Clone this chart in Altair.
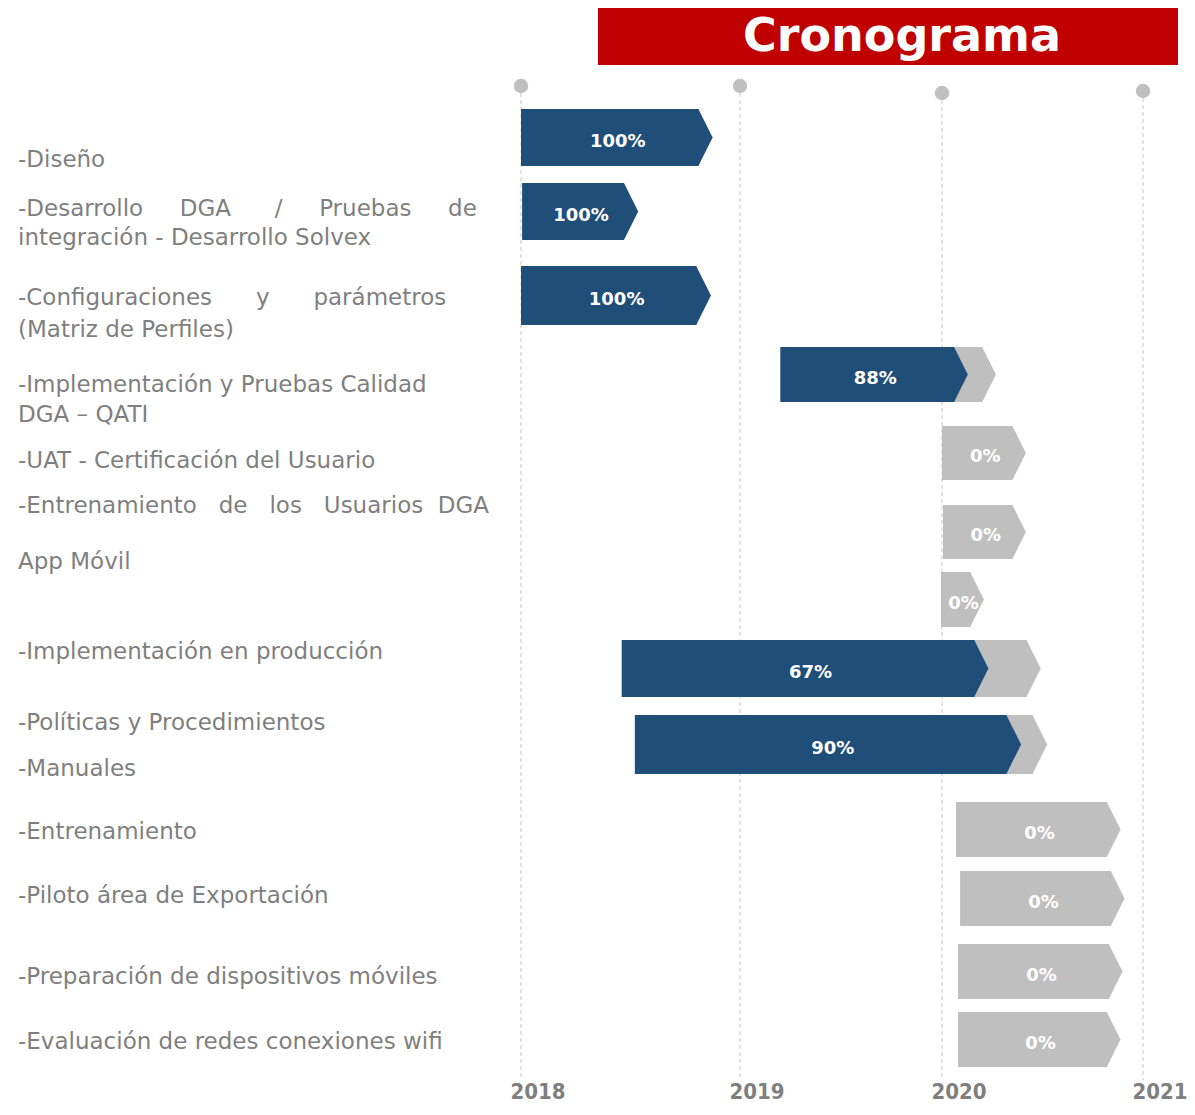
import altair as alt
import pandas as pd

# ---------------- data ----------------
tasks = [
    "Diseño",
    "Desarrollo DGA / Pruebas de integración - Desarrollo Solvex",
    "Configuraciones y parámetros (Matriz de Perfiles)",
    "Implementación y Pruebas Calidad DGA – QATI",
    "UAT - Certificación del Usuario",
    "Entrenamiento de los Usuarios DGA",
    "App Móvil",
    "Implementación en producción",
    "Políticas y Procedimientos / Manuales",
    "Entrenamiento",
    "Piloto área de Exportación",
    "Preparación de dispositivos móviles",
    "Evaluación de redes conexiones wifi",
]
start = [2018.00, 2018.005, 2018.00, 2019.20, 2020.00, 2020.005, 2019.995,
         2018.46, 2018.52, 2020.07, 2020.09, 2020.08, 2020.08]
end = [2018.81, 2018.47, 2018.80, 2020.20, 2020.35, 2020.35, 2020.14,
       2020.42, 2020.45, 2020.82, 2020.84, 2020.83, 2020.82]
done = [2018.81, 2018.47, 2018.80, 2020.06, 2020.00, 2020.005, 2019.995,
        2020.16, 2020.32, 2020.07, 2020.09, 2020.08, 2020.08]
pct = [100, 100, 100, 88, 0, 0, 0, 67, 90, 0, 0, 0, 0]
row_top = [109, 183, 266, 347, 426, 505, 572, 640, 715, 802, 871, 944, 1012]
row_bottom = [166, 240, 325, 402, 480, 559, 627, 697, 774, 857, 926, 999, 1067]

NB = "\u00a0"
label_text = [
    "-Diseño",
    "-Desarrollo " + NB * 4 + "DGA " + NB * 5 + "/ " + NB * 4 + "Pruebas " + NB * 4 + "de",
    "integración - Desarrollo Solvex",
    "-Configuraciones " + NB * 5 + "y " + NB * 5 + "parámetros",
    "(Matriz de Perfiles)",
    "-Implementación y Pruebas Calidad",
    "DGA – QATI",
    "-UAT - Certificación del Usuario",
    "-Entrenamiento " + NB * 2 + "de " + NB * 2 + "los " + NB * 2 + "Usuarios " + NB + "DGA",
    "App Móvil",
    "-Implementación en producción",
    "-Políticas y Procedimientos",
    "-Manuales",
    "-Entrenamiento",
    "-Piloto área de Exportación",
    "-Preparación de dispositivos móviles",
    "-Evaluación de redes conexiones wifi",
]
label_pos = [160, 209, 238, 298, 330, 385, 415, 461, 506, 562,
             652, 723, 769, 832, 896, 977, 1042]

years = [2018, 2019, 2020, 2021]
year_top = [86, 86, 93, 91]
title = ["Cronograma"]

# ---------------- styling ----------------
BLUE = "#1f4e79"
GRAY = "#bfbfbf"
TEXT_GRAY = "#7f7f7f"
TIP = "M -0.06 -1 L 0 -1 L 0.5 0 L 0 1 L -0.06 1 Z"

df = pd.DataFrame({
    "task": tasks, "start": start, "end": end, "done": done, "pct": pct,
    "top": row_top, "bottom": row_bottom,
})
df["center"] = (df["top"] + df["bottom"]) / 2
df["sz"] = (df["bottom"] - df["top"]) ** 2

labels = pd.DataFrame({"txt": label_text, "ly": label_pos})
ydf = pd.DataFrame({"year": years, "top": year_top, "lab": [str(y) for y in years]})
tdf = pd.DataFrame({"t": title})

X = alt.Scale(domain=years, range=[513, 732, 934, 1135], nice=False, zero=False)
Y = alt.Scale(domain=[8, 1107], range=[0, 1099], nice=False, zero=False)


def xq(f):
    return alt.X(f"{f}:Q", scale=X, axis=None)


def yq(f):
    return alt.Y(f"{f}:Q", scale=Y, axis=None)


grid = alt.Chart(ydf).mark_rule(color="#c8c8c8", strokeDash=[4, 3], strokeWidth=1).encode(
    x=xq("year"), y=yq("top"), y2=alt.value(1072)
)
dots = alt.Chart(ydf).mark_point(shape="circle", filled=True, size=210, color=GRAY,
                                 opacity=1, strokeWidth=0).encode(x=xq("year"), y=yq("top"))
year_lab = alt.Chart(ydf).mark_text(font="Liberation Sans Narrow, DejaVu Sans Condensed",
                                    fontWeight="bold", fontSize=22, color=TEXT_GRAY,
                                    dx=17, baseline="middle").encode(
    x=xq("year"), y=alt.value(1084), text="lab:N"
)

base = alt.Chart(df)
rest = base.transform_filter("datum.end > datum.done")
prog = base.transform_filter("datum.done > datum.start")

gray_body = rest.mark_rect(color=GRAY).encode(
    x=xq("start"), x2="end:Q", y=yq("top"), y2="bottom:Q")
gray_tip = rest.mark_point(shape=TIP, filled=True, color=GRAY, opacity=1, strokeWidth=0).encode(
    x=xq("end"), y=yq("center"), size=alt.Size("sz:Q", scale=None))
blue_body = prog.mark_rect(color=BLUE).encode(
    x=xq("start"), x2="done:Q", y=yq("top"), y2="bottom:Q")
blue_tip = prog.mark_point(shape=TIP, filled=True, color=BLUE, opacity=1, strokeWidth=0).encode(
    x=xq("done"), y=yq("center"), size=alt.Size("sz:Q", scale=None))

pct_text = base.transform_calculate(
    lx="datum.done > datum.start ? (datum.start + datum.done) / 2 : (datum.start + datum.end) / 2",
    lab="datum.pct + '%'",
).mark_text(font="DejaVu Sans", fontWeight="bold", fontSize=18, color="white",
            baseline="middle", dy=4, dx=8).encode(
    x=xq("lx"), y=yq("center"), text="lab:N")

left_labels = alt.Chart(labels).mark_text(font="DejaVu Sans", fontSize=23, color=TEXT_GRAY,
                                          align="left", baseline="middle").encode(
    x=alt.value(10), y=yq("ly"), text="txt:N")

title_box = alt.Chart(tdf).mark_rect(color="#c00000").encode(
    x=alt.value(590), x2=alt.value(1170), y=alt.value(0), y2=alt.value(57))
title_text = alt.Chart(tdf).mark_text(font="DejaVu Sans", fontWeight="bold", fontSize=46,
                                      color="white", baseline="middle", align="center").encode(
    x=alt.value(894), y=alt.value(29), text="t:N")

chart = alt.layer(
    grid, dots, year_lab, gray_body, gray_tip, blue_body, blue_tip, pct_text,
    left_labels, title_box, title_text,
).properties(
    width=1179, height=1099, padding=0, background="white",
    autosize=alt.AutoSizeParams(type="none"),
).configure_view(stroke=None)

chart.save("out.html", embed_options={"renderer": "svg", "actions": False})
